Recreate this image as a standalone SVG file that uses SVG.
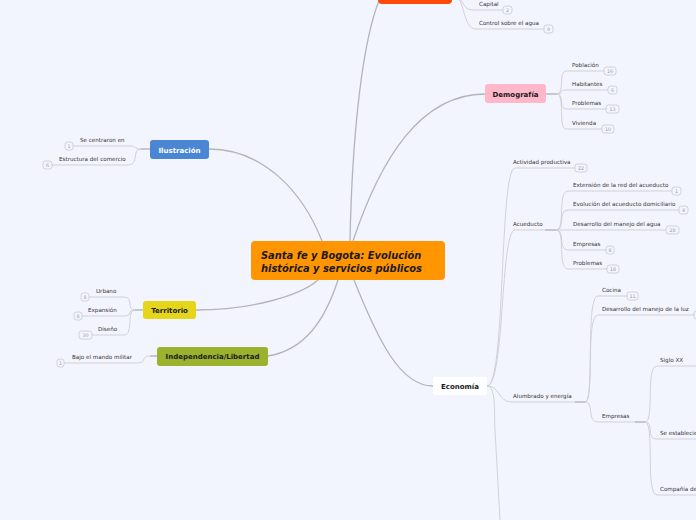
<svg xmlns="http://www.w3.org/2000/svg" width="696" height="520" viewBox="0 0 696 520">
<style>
.l{font-family:"DejaVu Sans",Verdana,sans-serif;font-size:5.6px;fill:#333}
.t{font-family:"DejaVu Sans",Verdana,sans-serif;font-size:7px;font-weight:bold;text-anchor:middle;fill:#1a1a1a}
.bd rect{fill:none;stroke:#c8c8ce;stroke-width:0.8}
.bd text{font-family:"DejaVu Sans",Verdana,sans-serif;font-size:4.8px;fill:#9a9aa0;text-anchor:middle}
.m path{fill:none;stroke:#b4b4b8;stroke-width:1.3}
.s path{fill:none;stroke:#cdcdd2;stroke-width:0.9}
.k path{fill:none;stroke:#a8a8ac;stroke-width:1.2}
</style>
<rect width="696" height="520" fill="#f3f5fe"/>
<g id="connectors">
<g class="m">
<path d="M350 241 C352 140 362 30 384 -10"/>
<path d="M353 241 C380 160 420 94 485 94"/>
<path d="M209 149 C262 149 302 190 322 241"/>
<path d="M196 310 C250 310 300 296 318 280"/>
<path d="M268 356 C305 350 325 320 338 280"/>
<path d="M354 280 C378 340 400 386 433 386"/>
</g>
<g class="s">
<path d="M452 -6 C462 -6 462 10 472 10 L503 10"/>
<path d="M452 -6 C465 -6 462 29 476 29 L544 29"/>
<path d="M557 94 C565 94 558 71 566 71 L604 71"/>
<path d="M557 94 C565 94 558 90 566 90 L608 90"/>
<path d="M557 94 C565 94 558 109 566 109 L606 109"/>
<path d="M557 94 C565 94 558 129 566 129 L602 129"/>
<path d="M141 149 C133 149 138 146 130 146 L73 146"/>
<path d="M141 149 C131 149 140 165 128 165 L52 165"/>
<path d="M135 310 C126 310 134 297 124 297 L89 297"/>
<path d="M135 310 C126 310 134 316 124 316 L82 316"/>
<path d="M135 310 C126 310 134 335 124 335 L92 335"/>
<path d="M150 356 C140 356 148 363 136 363 L64 363"/>
<path d="M487 386 C506 386 499 168 515 168 L575 168"/>
<path d="M487 386 C505 386 500 230 515 230 L545 230"/>
<path d="M487 386 C500 386 498 402 512 402 L575 402"/>
<path d="M487 386 C496 386 494 410 495 430 L500 520"/>
<path d="M556 230 C566 230 557 191 568 191 L672 191"/>
<path d="M556 230 C566 230 557 210 568 210 L679 210"/>
<path d="M556 230 L666 230"/>
<path d="M556 230 C566 230 557 250 568 250 L606 250"/>
<path d="M556 230 C566 230 557 269 568 269 L607 269"/>
<path d="M585 402 C595 402 585 296 598 296 L627 296"/>
<path d="M585 402 C595 402 585 315 598 315 L694 315"/>
<path d="M585 402 C595 402 586 422 598 422 L635 422"/>
<path d="M645 422 C655 422 645 366 657 366 L700 366"/>
<path d="M645 422 C655 422 645 439 657 439 L700 439"/>
<path d="M645 422 C655 422 645 495 657 495 L700 495"/>
</g>
<g class="k">
<path d="M546 94 L557 94"/>
<path d="M150 149 L141 149"/>
<path d="M143 310 L135 310"/>
<path d="M157 356 L150 356"/>
<path d="M545 230 L556 230"/>
<path d="M575 402 L585 402"/>
<path d="M635 422 L645 422"/>
</g>
</g>
<g id="central">
<rect x="251" y="241" width="194" height="39" rx="4" fill="#ff9500"/>
<text font-family="'DejaVu Sans',Verdana,sans-serif" font-size="9.9" font-weight="bold" font-style="italic" fill="#1a1a1a"><tspan x="261" y="259">Santa fe y Bogota: Evolución</tspan><tspan x="261" y="272">histórica y servicios públicos</tspan></text>
</g>
<g id="top-node">
<rect x="378" y="-20" width="74" height="24" rx="4" fill="#ff4a0a"/>
</g>
<g id="capital"><text class="l" x="479" y="6">Capital</text><g class="bd"><rect x="503" y="6" width="9" height="8" rx="2.5"/><text x="507.5" y="12">2</text></g></g>
<g id="control"><text class="l" x="479" y="25">Control sobre el agua</text><g class="bd"><rect x="544" y="25" width="9" height="8" rx="2.5"/><text x="548.5" y="31">9</text></g></g>
<g id="demografia">
<rect x="485" y="84" width="61" height="19" rx="3" fill="#ffb7c9"/>
<text class="t" x="515.5" y="96.5">Demografía</text>
</g>
<g id="poblacion"><text class="l" x="572" y="67">Población</text><g class="bd"><rect x="604" y="67" width="12" height="8" rx="2.5"/><text x="610" y="73">16</text></g></g>
<g id="habitantes"><text class="l" x="572" y="86">Habitantes</text><g class="bd"><rect x="608" y="86" width="9" height="8" rx="2.5"/><text x="612.5" y="92">6</text></g></g>
<g id="problemas-d"><text class="l" x="572" y="105">Problemas</text><g class="bd"><rect x="606" y="105" width="13" height="8" rx="2.5"/><text x="612.5" y="111">13</text></g></g>
<g id="vivienda"><text class="l" x="572" y="125">Vivienda</text><g class="bd"><rect x="602" y="125" width="12" height="8" rx="2.5"/><text x="608" y="131">10</text></g></g>
<g id="ilustracion">
<rect x="150" y="140" width="59" height="19" rx="3" fill="#4a86d4"/>
<text class="t" x="179.5" y="152.5" style="fill:#fff">Ilustración</text>
</g>
<g id="centraron"><text class="l" x="80" y="142">Se centraron en</text><g class="bd"><rect x="65" y="142" width="8" height="8" rx="2.5"/><text x="69" y="148">1</text></g></g>
<g id="estructura"><text class="l" x="59" y="161">Estructura del comercio</text><g class="bd"><rect x="43" y="161" width="9" height="8" rx="2.5"/><text x="47.5" y="167">6</text></g></g>
<g id="territorio">
<rect x="143" y="301" width="53" height="18" rx="3" fill="#e5d51b"/>
<text class="t" x="169.5" y="312.5">Territorio</text>
</g>
<g id="urbano"><text class="l" x="96" y="293">Urbano</text><g class="bd"><rect x="81" y="293" width="8" height="8" rx="2.5"/><text x="85" y="299">8</text></g></g>
<g id="expansion"><text class="l" x="88" y="312">Expansión</text><g class="bd"><rect x="74" y="312" width="8" height="8" rx="2.5"/><text x="78" y="318">8</text></g></g>
<g id="diseno"><text class="l" x="98" y="331">Diseño</text><g class="bd"><rect x="79" y="331" width="13" height="8" rx="2.5"/><text x="85.5" y="337">30</text></g></g>
<g id="independencia">
<rect x="157" y="347" width="111" height="19" rx="3" fill="#9bb22e"/>
<text class="t" x="212.5" y="359">Independencia/Libertad</text>
</g>
<g id="bajo"><text class="l" x="72" y="359">Bajo el mando militar</text><g class="bd"><rect x="57" y="359" width="7" height="8" rx="2.5"/><text x="60.5" y="365">1</text></g></g>
<g id="economia">
<rect x="433" y="377" width="54" height="18" rx="3" fill="#ffffff"/>
<text class="t" x="460" y="389">Economía</text>
</g>
<g id="actividad"><text class="l" x="513" y="164">Actividad productiva</text><g class="bd"><rect x="575" y="164" width="12" height="8" rx="2.5"/><text x="581" y="170">22</text></g></g>
<g id="acueducto"><text class="l" x="513" y="226">Acueducto</text></g>
<g id="extension"><text class="l" x="573" y="187">Extensión de la red del acueducto</text><g class="bd"><rect x="672" y="187" width="9" height="8" rx="2.5"/><text x="676.5" y="193">1</text></g></g>
<g id="evolucion"><text class="l" x="573" y="206">Evolución del acueducto domiciliario</text><g class="bd"><rect x="679" y="206" width="9" height="8" rx="2.5"/><text x="683.5" y="212">4</text></g></g>
<g id="desarrollo-agua"><text class="l" x="573" y="226">Desarrollo del manejo del agua</text><g class="bd"><rect x="666" y="226" width="13" height="8" rx="2.5"/><text x="672.5" y="232">28</text></g></g>
<g id="empresas-a"><text class="l" x="573" y="246">Empresas</text><g class="bd"><rect x="606" y="246" width="8" height="8" rx="2.5"/><text x="610" y="252">8</text></g></g>
<g id="problemas-a"><text class="l" x="573" y="265">Problemas</text><g class="bd"><rect x="607" y="265" width="12" height="8" rx="2.5"/><text x="613" y="271">18</text></g></g>
<g id="alumbrado"><text class="l" x="513" y="398">Alumbrado y energía</text></g>
<g id="cocina"><text class="l" x="602" y="292">Cocina</text><g class="bd"><rect x="627" y="292" width="11" height="8" rx="2.5"/><text x="632.5" y="298">11</text></g></g>
<g id="desarrollo-luz"><text class="l" x="602" y="311">Desarrollo del manejo de la luz</text><g class="bd"><rect x="694" y="311" width="9" height="8" rx="2.5"/></g></g>
<g id="empresas-e"><text class="l" x="602" y="418">Empresas</text></g>
<g id="siglo"><text class="l" x="660" y="362">Siglo XX</text></g>
<g id="establecie"><text class="l" x="660" y="435">Se establecie</text></g>
<g id="compania"><text class="l" x="660" y="491">Compañía de</text></g>
</svg>
